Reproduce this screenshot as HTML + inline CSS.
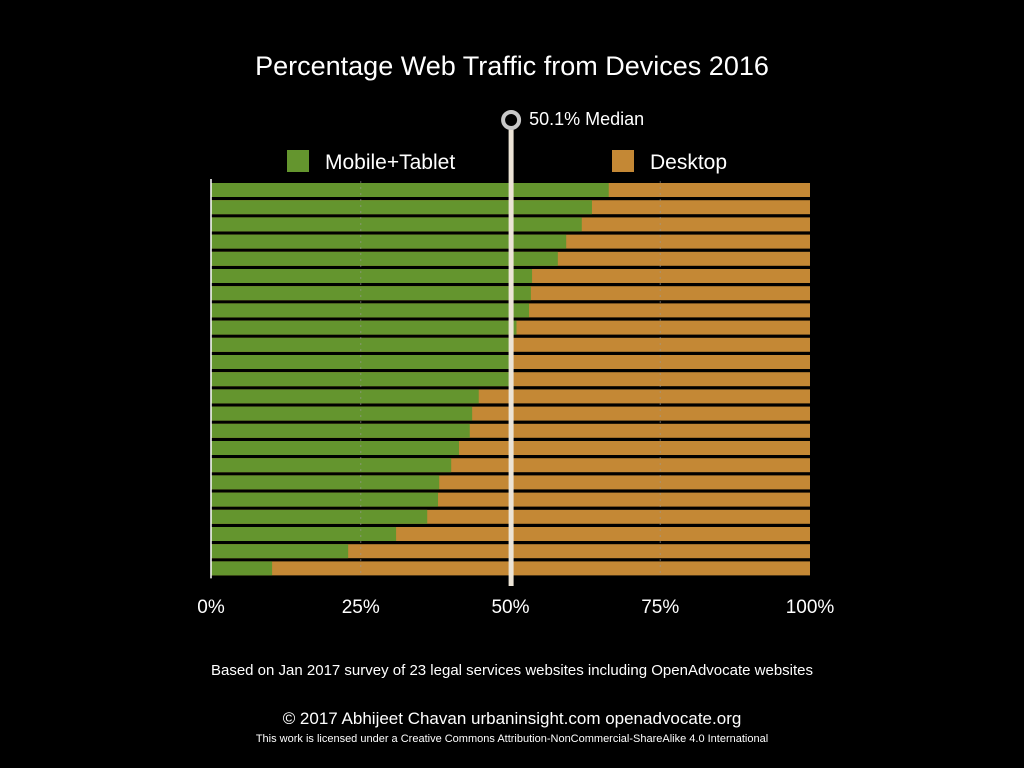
<!DOCTYPE html>
<html><head><meta charset="utf-8"><style>
html,body{margin:0;padding:0;background:#000;width:1024px;height:768px;overflow:hidden}
svg text{font-family:"Liberation Sans",sans-serif;fill:#fff}
</style></head><body>
<svg id="chart" width="1024" height="768" xmlns="http://www.w3.org/2000/svg">
<text x="512" y="75" font-size="27" text-anchor="middle">Percentage Web Traffic from Devices 2016</text>
<g>
<rect x="287" y="150" width="22" height="22" fill="#64952e"/>
<text x="325" y="169" font-size="21">Mobile+Tablet</text>
<rect x="612" y="150" width="22" height="22" fill="#c48835"/>
<text x="650" y="169" font-size="21">Desktop</text>
</g>
<g id="bars"></g>
<g id="axis"></g>
<text x="512" y="675" font-size="15" text-anchor="middle">Based on Jan 2017 survey of 23 legal services websites including OpenAdvocate websites</text>
<text x="512" y="724" font-size="17" text-anchor="middle">© 2017  Abhijeet Chavan  urbaninsight.com  openadvocate.org</text>
<text x="512" y="742" font-size="11" text-anchor="middle">This work is licensed under a Creative Commons Attribution-NonCommercial-ShareAlike 4.0 International</text>
</svg>
<script>
const mobileShare = [66.4,63.6,61.9,59.3,57.9,53.6,53.4,53.1,51.0,50.5,50.1,50.0,44.7,43.6,43.2,41.4,40.1,38.1,37.9,36.1,30.9,22.9,10.2];
const tickValues = [0,25,50,75,100];
const tickLabels = ["0%","25%","50%","75%","100%"];
const medianValue = 50.1;
const medianLabel = "50.1% Median";

const NS="http://www.w3.org/2000/svg";
const x0=211,x1=810,yTop=183,pitch=17.2,barH=14;
const xs=v=>x0+(x1-x0)*v/100;
const ys=i=>yTop+i*pitch;
function mk(tag,attrs,parent){const e=document.createElementNS(NS,tag);for(const k in attrs)e.setAttribute(k,attrs[k]);parent.appendChild(e);return e;}
const bars=document.getElementById('bars');
const axis=document.getElementById('axis');
mobileShare.forEach((v,i)=>{
  const d=mk('rect',{x:xs(0),y:ys(i),width:xs(100)-xs(0),height:barH,fill:'#c48835'},bars);
  
  
  const m=mk('rect',{x:xs(0),y:ys(i),width:xs(v)-xs(0),height:barH,fill:'#64952e'},bars);
  
  
});
const yEnd=ys(mobileShare.length-1)+barH;
tickValues.forEach((t,i)=>{
  if(t===25||t===75){
    const g=mk('line',{x1:xs(t),x2:xs(t),y1:yTop-2,y2:yEnd,stroke:'#9a9a9a','stroke-width':1,'stroke-dasharray':'2,4',opacity:0.6},axis);
    
    
  }
  const l=mk('text',{x:xs(t),y:613,'font-size':19,'text-anchor':'middle'},axis);
  l.textContent=tickLabels[i];
  
  
});
const ax=mk('line',{x1:xs(0),x2:xs(0),y1:yTop-4,y2:yEnd+3,stroke:'#fff','stroke-width':1.5},axis);


const mx=xs(medianValue);
const ml=mk('rect',{x:mx-2.5,y:128,width:5,height:458,fill:'#ece4d6'},axis);


const mc=mk('circle',{cx:mx,cy:120,r:8,fill:'#000',stroke:'#c8c8c8','stroke-width':4},axis);


const mt=mk('text',{x:mx+18,y:125,'font-size':18},axis);
mt.textContent=medianLabel;


</script>
</body></html>
